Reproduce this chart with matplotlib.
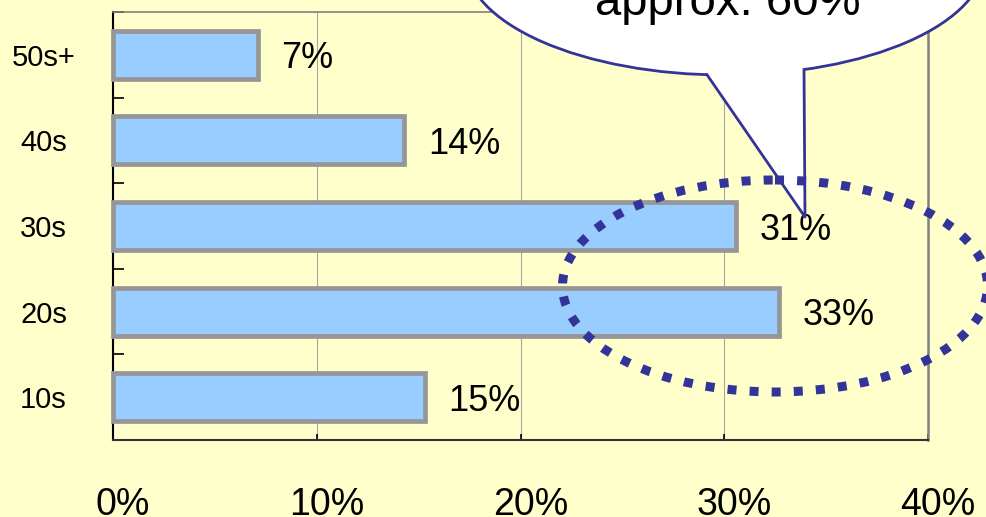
import matplotlib.pyplot as plt
import matplotlib.transforms as mtrans
from matplotlib.patches import Ellipse, Polygon
import numpy as np

plt.rcParams['font.family'] = ['Liberation Sans', 'DejaVu Sans']

# data
groups = ['10s', '20s', '30s', '40s', '50s+']
shares = [15.3, 32.7, 30.6, 14.3, 7.1]
xticks = [0, 10, 20, 30, 40]
callout = 'approx. 60%'

bg = '#FFFFCC'
navy = '#333399'

fig = plt.figure(figsize=(9.87, 5.17), dpi=100, facecolor=bg)
ax = fig.add_axes([113 / 987, 77 / 517, 815 / 987, 428 / 517], facecolor=bg)

y = np.arange(len(groups))
ax.barh(y, shares, height=0.56, color='#99CCFF', edgecolor='#969696',
        linewidth=3.4, zorder=3, clip_on=False)
for yi, v in zip(y, shares):
    ax.annotate(f'{v:.0f}%', (v, yi), xytext=(17, -3), textcoords='offset points',
                va='center', ha='left', fontsize=26)

ax.set_xlim(0, 40)
ax.set_ylim(-0.5, 4.5)
ax.set_xticks(xticks)
ax.set_xticklabels([f'{t}%' for t in xticks], fontsize=27)
ax.set_yticks(y)
ax.set_yticklabels(groups, fontsize=21)
ax.set_yticks(np.arange(-0.5, 5, 1), minor=True)
ax.tick_params(axis='y', which='major', length=0, pad=50)
ax.tick_params(axis='y', which='minor', direction='in', length=8, width=1.2, color='black')
ax.tick_params(axis='x', direction='in', length=4.5, width=1.2, pad=34)
for lab in ax.get_yticklabels():
    lab.set_horizontalalignment('center')
shift = mtrans.ScaledTranslation(0.1, 0, fig.dpi_scale_trans)
for lab in ax.get_xticklabels():
    lab.set_transform(lab.get_transform() + shift)

ax.grid(axis='x', color='#A6A6A6', lw=0.8)
ax.set_axisbelow(True)
ax.spines['left'].set_color('black')
ax.spines['left'].set_linewidth(1.5)
ax.spines['bottom'].set_color('#333333')
ax.spines['bottom'].set_linewidth(1.5)
ax.spines['top'].set_color('#808080')
ax.spines['top'].set_linewidth(1.2)
ax.spines['right'].set_color('#808080')
ax.spines['right'].set_linewidth(1.8)

# overlay in pixel coordinates for the speech balloon and the ring
ov = fig.add_axes([0, 0, 1, 1], facecolor='none')
ov.set_xlim(0, 987)
ov.set_ylim(517, 0)
ov.axis('off')

cx, cy, a, b = 725, -40, 260, 115
ov.add_patch(Ellipse((cx, cy), 2 * a, 2 * b, facecolor='white', edgecolor=navy, lw=2))
bx1, bx2 = 707, 804
by1 = cy + b * np.sqrt(1 - ((bx1 - cx) / a) ** 2)
by2 = cy + b * np.sqrt(1 - ((bx2 - cx) / a) ** 2)
tip = (805, 217)
ov.add_patch(Polygon([(bx1, by1 - 5), (bx1, by1), tip, (bx2, by2), (bx2, by2 - 5)],
                     closed=True, facecolor='white', edgecolor='none'))
ov.plot([bx1, tip[0], bx2], [by1, tip[1], by2], color=navy, lw=2)
ov.text(728, 15, callout, ha='center', va='baseline', fontsize=34)

ring = Ellipse((775, 286), 425, 212, fill=False, edgecolor=navy, lw=6.5,
               linestyle=(0, (1, 1.45)))
ov.add_patch(ring)

fig.savefig('out.png', dpi=100, facecolor=bg)
